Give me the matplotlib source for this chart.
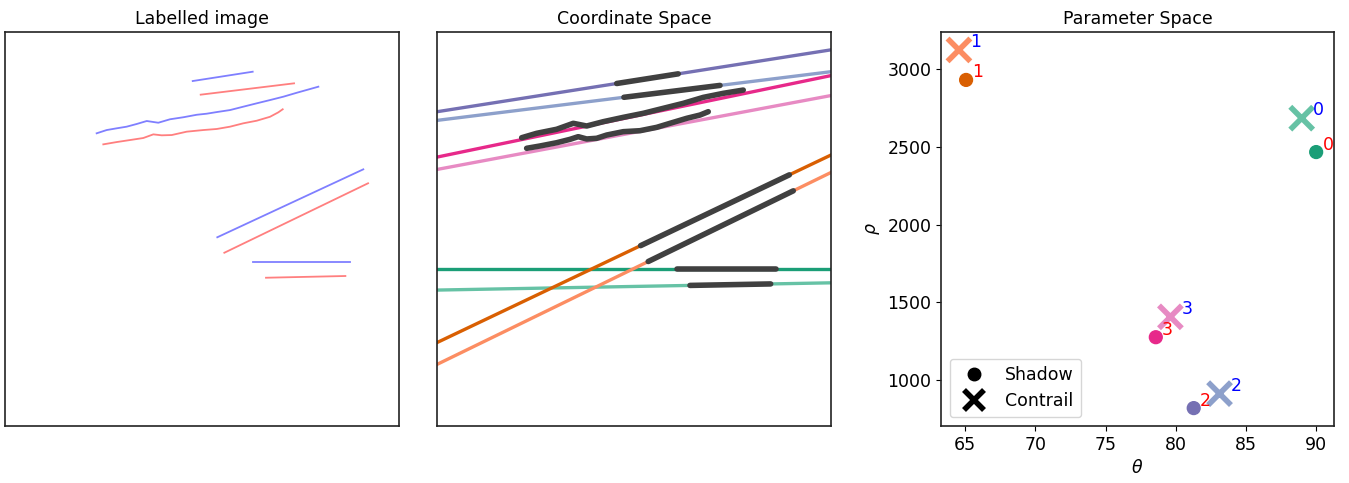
import numpy as np
import matplotlib.pyplot as plt
from matplotlib.lines import Line2D

plt.rcParams['font.size'] = 12.5

# image size (pixels)
W = 4200
H = 4100

# Hough parameters for each pair: theta (deg), rho (px)
ids = [0, 1, 2, 3]
shadow_theta = [90.0, 65.07, 81.28, 78.58]
shadow_rho = [2467, 2931, 820, 1276]
contrail_theta = [88.97, 64.56, 83.12, 79.62]
contrail_rho = [2685, 3124, 913, 1407]

shadow_colors = ['#1b9e77', '#d95f02', '#7570b3', '#e7298a']
contrail_colors = ['#66c2a5', '#fc8d62', '#8da0cb', '#e78ac3']

# labelled pixels (left panel), blue / red traces
blue_traces = [
    ([2001, 2640], [510, 413]),
    ([977, 1084, 1191, 1297, 1404, 1511, 1634, 1759, 1901, 2044, 2150, 2257,
      2399, 2540, 2683, 2825, 2967, 3110, 3340],
     [1054, 1020, 1002, 985, 957, 926, 944, 908, 887, 861, 850, 833,
      812, 777, 742, 708, 673, 632, 569]),
    ([2263, 3819], [2136, 1429]),
    ([2640, 3678], [2390, 2390]),
]
red_traces = [
    ([2086, 3081], [652, 534]),
    ([1048, 1191, 1333, 1474, 1581, 1670, 1777, 1937, 2114, 2257, 2399, 2540,
      2683, 2825, 2913, 2960],
     [1169, 1145, 1124, 1103, 1065, 1075, 1072, 1037, 1020, 1009, 985, 950,
      923, 882, 836, 804]),
    ([2338, 3870], [2297, 1574]),
    ([2782, 3628], [2557, 2539]),
]

# detected segments along the fitted lines: x start / end
shadow_seg_x = [(2555, 3614), (2171, 3756), (1916, 2572)]
shadow_seg_ids = [0, 1, 2]
contrail_seg_x = [(2697, 3557), (2252, 3798), (1993, 3017)]
contrail_seg_ids = [0, 1, 2]

# the two wavy segments (pair 3)
wavy_shadow_x = [903, 1063, 1276, 1453, 1596, 1773, 1986, 2199, 2412, 2626, 2839, 3052, 3265]
wavy_shadow_y = [1100, 1054, 1012, 950, 978, 933, 888, 846, 794, 742, 680, 638, 604]
wavy_contrail_x = [956, 1098, 1276, 1418, 1506, 1596, 1702, 1809, 1986, 2164, 2342, 2484, 2662, 2804, 2892]
wavy_contrail_y = [1210, 1186, 1152, 1117, 1089, 1113, 1106, 1072, 1037, 1027, 992, 950, 898, 864, 829]


def line_y(x, theta, rho):
    t = np.deg2rad(theta)
    return (rho - x * np.cos(t)) / np.sin(t)


fig = plt.figure(figsize=(13.49, 4.83), dpi=100)
ax1 = fig.add_axes([0.0037, 0.118, 0.2921, 0.8157])
ax2 = fig.add_axes([0.3239, 0.118, 0.2921, 0.8157])
ax3 = fig.add_axes([0.6976, 0.118, 0.2913, 0.8157])

for ax in (ax1, ax2):
    ax.set_xlim(0, W)
    ax.set_ylim(H, 0)
    ax.set_xticks([])
    ax.set_yticks([])
for ax in (ax1, ax2, ax3):
    for s in ax.spines.values():
        s.set_linewidth(1.2)
        s.set_color('#222222')

# labelled image
for xs, ys in blue_traces:
    ax1.plot(xs, ys, color='#7f7fff', lw=1.3)
for xs, ys in red_traces:
    ax1.plot(xs, ys, color='#ff7f7f', lw=1.3)
ax1.set_title('Labelled image', fontsize=12.5)

# coordinate space
xx = np.array([0, W])
for i in ids:
    ax2.plot(xx, line_y(xx, shadow_theta[i], shadow_rho[i]), color=shadow_colors[i], lw=2.4)
    ax2.plot(xx, line_y(xx, contrail_theta[i], contrail_rho[i]), color=contrail_colors[i], lw=2.4)

seg_kw = dict(color='#404040', lw=4, solid_capstyle='round', solid_joinstyle='round')
for (x0, x1), i in zip(shadow_seg_x, shadow_seg_ids):
    sx = np.array([x0, x1])
    ax2.plot(sx, line_y(sx, shadow_theta[i], shadow_rho[i]), **seg_kw)
for (x0, x1), i in zip(contrail_seg_x, contrail_seg_ids):
    sx = np.array([x0, x1])
    ax2.plot(sx, line_y(sx, contrail_theta[i], contrail_rho[i]), **seg_kw)
ax2.plot(wavy_shadow_x, wavy_shadow_y, **seg_kw)
ax2.plot(wavy_contrail_x, wavy_contrail_y, **seg_kw)
ax2.set_title('Coordinate Space', fontsize=12.5)

# parameter space
ax3.scatter(shadow_theta, shadow_rho, c=shadow_colors, s=85, marker='o', zorder=3)
ax3.scatter(contrail_theta, contrail_rho, c=contrail_colors, s=270, marker='x',
            linewidths=4, zorder=3)
for i in ids:
    ax3.annotate(str(i), (shadow_theta[i], shadow_rho[i]), xytext=(4.5, 5.4),
                 textcoords='offset points', ha='left', va='center', color='red')
    ax3.annotate(str(i), (contrail_theta[i], contrail_rho[i]), xytext=(8, 5.6),
                 textcoords='offset points', ha='left', va='center', color='blue')

handles = [
    Line2D([], [], ls='none', marker='o', color='black', markersize=9),
    Line2D([], [], ls='none', marker='x', color='black', markersize=15, mew=4),
]
ax3.legend(handles, ['Shadow', 'Contrail'], loc='lower left')
ax3.set_xlabel(r'$\theta$')
ax3.set_ylabel(r'$\rho$')
ax3.set_xticks([65, 70, 75, 80, 85, 90])
ax3.set_yticks([1000, 1500, 2000, 2500, 3000])
ax3.set_title('Parameter Space', fontsize=12.5)

fig.savefig('out.png', dpi=100)
